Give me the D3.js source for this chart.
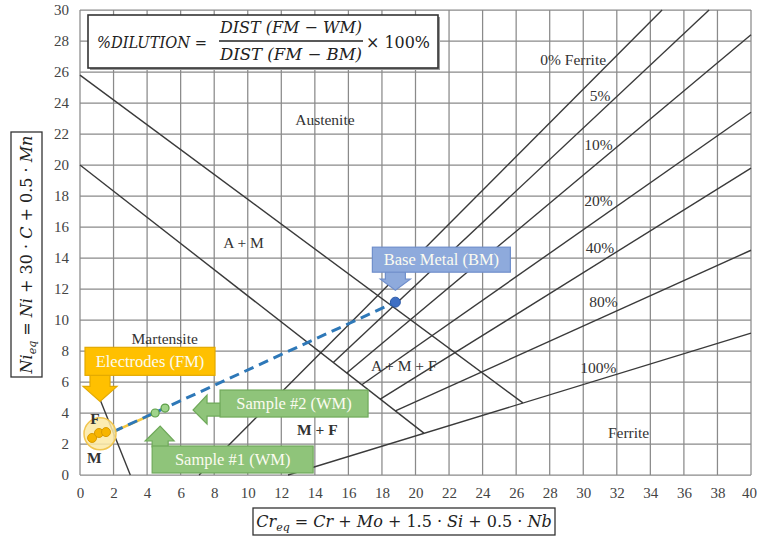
<!DOCTYPE html>
<html><head><meta charset="utf-8">
<script src="https://cdn.jsdelivr.net/npm/d3@7/dist/d3.min.js"></script>
<style>body{margin:0;background:#fff}svg{display:block}</style>
</head><body>
<svg id="chart" width="757" height="540"></svg>
<script>
// ---------- data ----------
const xTicks = [0,2,4,6,8,10,12,14,16,18,20,22,24,26,28,30,32,34,36,38,40];
const yTicks = [0,2,4,6,8,10,12,14,16,18,20,22,24,26,28,30];

// phase boundary lines (Cr_eq, Ni_eq)
const boundaryNames  = ["A|A+M","A+M|A+M+F","M|M+F","0%","5%","10%","20%","40%","80%","100%"];
const boundaryStartX = [0,    0,    1.2,  7.1,  15.1, 15.9, 16.8, 17.9, 18.8, 12.4];
const boundaryStartY = [25.8, 20,   4.85, 0,    7.26, 6.58, 5.82, 4.89, 4.13, 0];
const boundaryEndX   = [26.4, 20.5, 3.0,  34.7, 37.5, 40,   40,   40,   40,   40];
const boundaryEndY   = [4.65, 2.7,  0,    30,   30,   28.4, 23.4, 19.8, 14.5, 9.15];

// region / percentage labels
const labelText = ["Austenite","A + M","Martensite","A + M + F","M + F","Ferrite","0% Ferrite","5%","10%","20%","40%","80%","100%","F","M"];
const labelX    = [14.6, 9.75, 5.05, 19.3, 14.15, 32.7, 29.4, 31.0, 30.9, 30.9, 31.0, 31.2, 30.9, 0.9, 0.85];
const labelY    = [22.9, 15.0, 8.8,  7.05, 2.95,  2.75, 26.8, 24.5, 21.3, 17.7, 14.7, 11.2, 6.9,  3.65, 1.1];

// measured compositions
const fmX = [0.72, 1.13, 1.55];   // electrodes (filler metal)
const fmY = [2.39, 2.71, 2.77];
const wmX = [4.48, 5.07];         // weld metal samples
const wmY = [4.0, 4.32];
const bmX = [18.8];               // base metal
const bmY = [11.15];
const dilutionX = [2.0, 18.8];    // dilution line FM -> BM
const dilutionY = [2.8, 11.15];

// ---------- setup ----------
const svg = d3.select("#chart");
const x = d3.scaleLinear().domain([0,40]).range([80,751]);
const y = d3.scaleLinear().domain([0,30]).range([475,10]);
const SERIF = "'Liberation Serif','Times New Roman',serif";

// grid
const grid = svg.append("g").attr("stroke","#8a8a8a").attr("stroke-width",1.25);
grid.selectAll(".gx").data(xTicks).join("line")
  .attr("x1",d=>x(d)).attr("x2",d=>x(d)).attr("y1",y(0)).attr("y2",y(30));
grid.selectAll(".gy").data(yTicks).join("line")
  .attr("y1",d=>y(d)).attr("y2",d=>y(d)).attr("x1",x(0)).attr("x2",x(40));

// axes (tick labels)
const xAxis = svg.append("g").attr("transform",`translate(0,${y(0)})`)
  .call(d3.axisBottom(x).tickValues(xTicks).tickSize(0).tickPadding(12).tickFormat(d3.format("d")));
const yAxis = svg.append("g").attr("transform",`translate(${x(0)},0)`)
  .call(d3.axisLeft(y).tickValues(yTicks).tickSize(0).tickPadding(11).tickFormat(d3.format("d")));
[xAxis,yAxis].forEach(a=>{
  a.select(".domain").remove();
  a.selectAll("text").attr("font-family",SERIF).attr("font-size",15).attr("fill","#444");
});
xAxis.selectAll(".tick").filter(d=>d===40).select("text").attr("dx",-2);

// boundary lines
svg.append("g").selectAll("line").data(boundaryNames).join("line")
  .attr("x1",(d,i)=>x(boundaryStartX[i])).attr("y1",(d,i)=>y(boundaryStartY[i]))
  .attr("x2",(d,i)=>x(boundaryEndX[i])).attr("y2",(d,i)=>y(boundaryEndY[i]))
  .attr("stroke","#3a3a3a").attr("stroke-width",1.4);

// dilution line: yellow underlay then blue dashes
svg.append("line")
  .attr("x1",x(dilutionX[0])).attr("y1",y(dilutionY[0]))
  .attr("x2",x(wmX[0])).attr("y2",y(wmY[0]))
  .attr("stroke","#f3c640").attr("stroke-width",2.5);
svg.append("line")
  .attr("x1",x(dilutionX[0])).attr("y1",y(dilutionY[0]))
  .attr("x2",x(dilutionX[1])).attr("y2",y(dilutionY[1]))
  .attr("stroke","#2e78b8").attr("stroke-width",3).attr("stroke-dasharray","10,6");

// FM halo + points
const fmCx = d3.mean(fmX), fmCy = d3.mean(fmY);
svg.append("circle").attr("cx",x(fmCx)+1).attr("cy",y(fmCy)-0.5).attr("r",16)
  .attr("fill","#fce9a4").attr("fill-opacity",0.85).attr("stroke","#f2c650").attr("stroke-width",1.5);
svg.append("g").selectAll("circle").data(fmX).join("circle")
  .attr("cx",(d,i)=>x(d)).attr("cy",(d,i)=>y(fmY[i])).attr("r",4.5)
  .attr("fill","#f7b500").attr("stroke","#d99b00").attr("stroke-width",1);
// WM points
svg.append("g").selectAll("circle").data(wmX).join("circle")
  .attr("cx",(d,i)=>x(d)).attr("cy",(d,i)=>y(wmY[i])).attr("r",4)
  .attr("fill","#9fd48a").attr("stroke","#5c9e47").attr("stroke-width",1.2);
// BM point
svg.append("circle").attr("cx",x(bmX[0])).attr("cy",y(bmY[0])).attr("r",5)
  .attr("fill","#3e6fc4").attr("stroke","#2d5aa8").attr("stroke-width",1);

// region labels (on top of points)
svg.append("g").selectAll("text").data(labelText).join("text")
  .attr("x",(d,i)=>x(labelX[i])).attr("y",(d,i)=>y(labelY[i]))
  .attr("dy","0.35em").attr("text-anchor","middle")
  .attr("font-family",SERIF).attr("font-size",15.5).attr("fill","#333")
  .attr("font-weight",(d)=> (d==="F"||d==="M"||d==="M + F")?"bold":"normal")
  .text(d=>d);

// ---------- callouts ----------
function callout(box, arrowPts, fill, stroke, label, fs){
  const g = svg.append("g");
  g.append("polygon").attr("points",arrowPts.map(p=>p.join(",")).join(" "))
    .attr("fill",fill).attr("stroke",stroke).attr("stroke-width",1.2);
  g.append("rect").attr("x",box[0]).attr("y",box[1]).attr("width",box[2]-box[0]).attr("height",box[3]-box[1])
    .attr("fill",fill).attr("stroke",stroke).attr("stroke-width",1.2);
  g.append("text").attr("x",(box[0]+box[2])/2).attr("y",(box[1]+box[3])/2).attr("dy","0.35em")
    .attr("text-anchor","middle").attr("font-family",SERIF).attr("font-size",fs).attr("fill","#fbfbf0")
    .text(label);
}
// Electrodes (FM): arrow down toward FM cluster
{
  const tx = x(fmCx)+1, ty = y(fmCy)-33;
  callout([tx-15, ty-54, tx+115, ty-26],
    [[tx-10,ty-27],[tx+10,ty-27],[tx+10,ty-15],[tx+17,ty-15],[tx,ty],[tx-17,ty-15],[tx-10,ty-15]],
    "#ffc000","#e3a900","Electrodes (FM)",16.5);
}
// Base Metal (BM): arrow down toward BM point
{
  const tx = x(bmX[0]), ty = y(bmY[0])-12;
  callout([tx-23, ty-43, tx+115, ty-18],
    [[tx-10,ty-19],[tx+10,ty-19],[tx+10,ty-11],[tx+15,ty-11],[tx,ty],[tx-15,ty-11],[tx-10,ty-11]],
    "#8eaadc","#6f8ecb","Base Metal (BM)",16.5);
}
// Sample #2 (WM): arrow pointing left
{
  const tx = x(wmX[1])+28, ty = y(wmY[1])+2;
  callout([tx+27, ty-20, tx+175, ty+7],
    [[tx+28,ty-7],[tx+14,ty-7],[tx+14,ty-15],[tx,ty],[tx+14,ty+14],[tx+14,ty+6],[tx+28,ty+6]],
    "#8fc47a","#6fa95a","Sample #2 (WM)",16.5);
}
// Sample #1 (WM): arrow pointing up
{
  const tx = x(wmX[0])+5, ty = y(wmY[0])+13;
  callout([tx-8, ty+20, tx+153, ty+47],
    [[tx-8,ty+21],[tx-8,ty+15],[tx-15,ty+15],[tx,ty],[tx+14,ty+15],[tx+8,ty+15],[tx+8,ty+21]],
    "#8fc47a","#6fa95a","Sample #1 (WM)",16.5);
}

// ---------- formula box ----------
const MATH = "'DejaVu Serif','Liberation Serif',serif";
const fb = svg.append("g");
fb.append("rect").attr("x",90).attr("y",17).attr("width",350).attr("height",53).attr("fill","#9a9a9a");
fb.append("rect").attr("x",88).attr("y",15).attr("width",350).attr("height",53)
  .attr("fill","#fff").attr("stroke","#333").attr("stroke-width",1.6);
function mtext(g, tx, ty, str, len, anchor){
  return g.append("text").attr("x",tx).attr("y",ty).attr("font-family",MATH).attr("font-style","italic")
    .attr("font-size",17).attr("fill","#222").attr("text-anchor",anchor||"start")
    .attr("textLength",len).attr("lengthAdjust","spacingAndGlyphs").text(str);
}
mtext(fb, 97, 48, "%DILUTION =", 110);
mtext(fb, 291, 33, "DIST (FM − WM)", 142, "middle");
fb.append("line").attr("x1",219).attr("x2",363).attr("y1",41).attr("y2",41).attr("stroke","#222").attr("stroke-width",1.3);
mtext(fb, 291, 60, "DIST (FM − BM)", 142, "middle");
fb.append("text").attr("x",366).attr("y",48).attr("font-family",MATH).attr("font-size",17).attr("fill","#222")
  .attr("textLength",64).attr("lengthAdjust","spacingAndGlyphs").text("× 100%");

// ---------- axis title boxes ----------
// x title
const xb = svg.append("g");
xb.append("rect").attr("x",253).attr("y",508).attr("width",302).attr("height",27)
  .attr("fill","#fff").attr("stroke","#333").attr("stroke-width",1.3);
const xt = xb.append("text").attr("x",404).attr("y",527).attr("text-anchor","middle")
  .attr("font-family",MATH).attr("font-size",16).attr("fill","#222");
xt.append("tspan").attr("font-style","italic").text("Cr");
xt.append("tspan").attr("font-style","italic").attr("font-size",11).attr("dy",4).text("eq");
xt.append("tspan").attr("dy",-4).text(" = ");
xt.append("tspan").attr("font-style","italic").text("Cr");
xt.append("tspan").text(" + ");
xt.append("tspan").attr("font-style","italic").text("Mo");
xt.append("tspan").text(" + 1.5 · ");
xt.append("tspan").attr("font-style","italic").text("Si");
xt.append("tspan").text(" + 0.5 · ");
xt.append("tspan").attr("font-style","italic").text("Nb");

// y title
const yb = svg.append("g");
yb.append("rect").attr("x",11).attr("y",132).attr("width",31).attr("height",245)
  .attr("fill","#fff").attr("stroke","#333").attr("stroke-width",1.3);
const yt = yb.append("text").attr("transform","translate(32,254.5) rotate(-90)").attr("text-anchor","middle")
  .attr("font-family",MATH).attr("font-size",16).attr("fill","#222");
yt.append("tspan").attr("font-style","italic").text("Ni");
yt.append("tspan").attr("font-style","italic").attr("font-size",11).attr("dy",4).text("eq");
yt.append("tspan").attr("dy",-4).text(" = ");
yt.append("tspan").attr("font-style","italic").text("Ni");
yt.append("tspan").text(" + 30 · ");
yt.append("tspan").attr("font-style","italic").text("C");
yt.append("tspan").text(" + 0.5 · ");
yt.append("tspan").attr("font-style","italic").text("Mn");
</script>
</body></html>
